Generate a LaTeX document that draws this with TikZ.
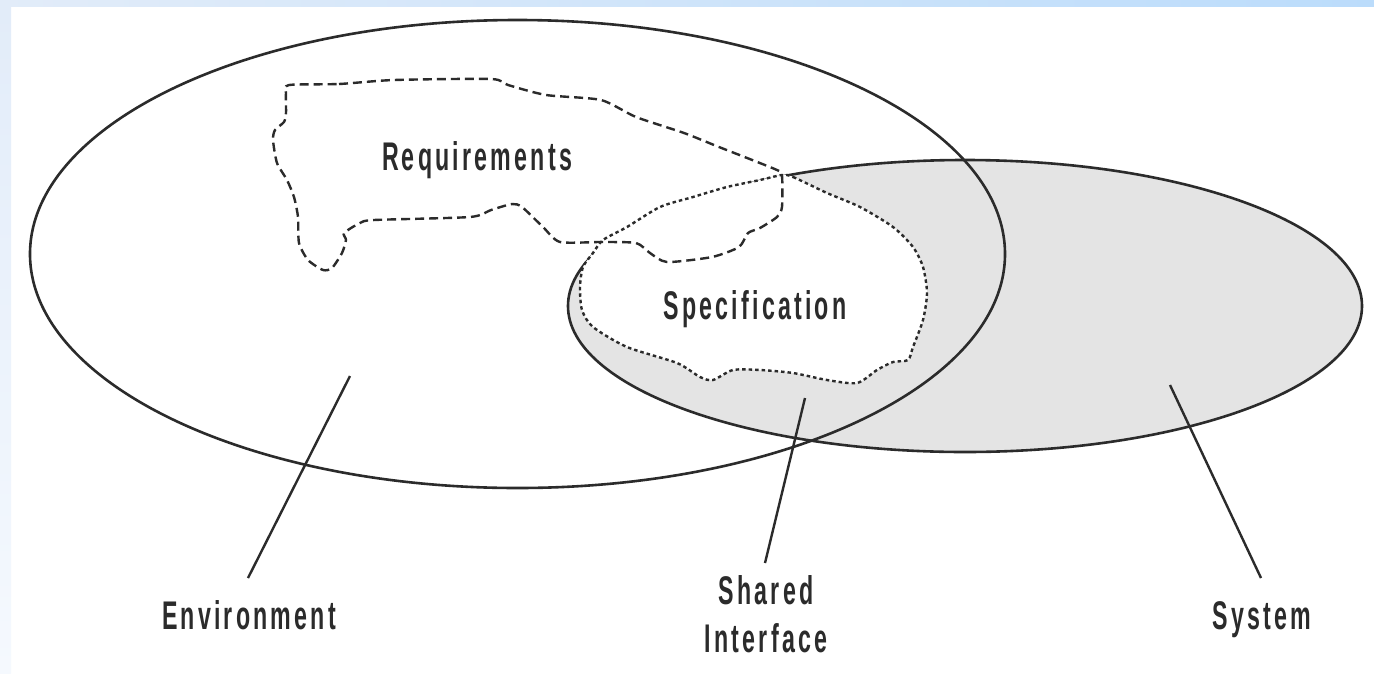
\documentclass[tikz,border=0pt]{standalone}
\usepackage{fontspec}
\usetikzlibrary{shapes.geometric}
\newfontfamily\lblfont{Liberation Sans}[FakeStretch=0.58,LetterSpace=8]
\definecolor{ink}{HTML}{2B2B2B}
\definecolor{sysgray}{HTML}{E4E4E4}
\definecolor{bandA}{HTML}{E2ECF9}
\definecolor{bandB}{HTML}{BBDCFB}
\definecolor{bandC}{HTML}{F5F9FE}
\tikzset{
  outline/.style={draw=ink, line width=2.6pt},
  reqline/.style={draw=ink, line width=2.4pt, dash pattern=on 9pt off 5pt},
  specline/.style={draw=ink, line width=2.4pt, dash pattern=on 3.5pt off 3pt},
  leader/.style={draw=ink, line width=2.4pt},
  lbl/.style={text=ink, inner sep=0pt, font=\lblfont\bfseries\fontsize{40}{48}\selectfont},
  region/.style={ellipse, inner sep=0pt, outer sep=0pt}
}
\begin{document}
\begin{tikzpicture}[x=1pt,y=-1pt]
\useasboundingbox (0,0) rectangle (1374,673);
\fill[white] (0,0) rectangle (1374,673);
% frame bands
\shade[left color=bandA, right color=bandB] (0,0) rectangle (1374,6);
\shade[top color=bandA, bottom color=bandC] (0,6) rectangle (11,673);

% system (shaded) and environment ellipses
\node[region, outline, fill=sysgray, minimum width=794pt, minimum height=292pt] (sys) at (965,306) {};
\node[region, outline, minimum width=975pt, minimum height=468pt] (env) at (517.5,254) {};

% specification blob
\path[fill=white] plot[smooth cycle, tension=0.45] coordinates {
  (782,175) (793,177) (827,193) (860,207) (893,227) (913,247) (923,267)
  (927,293) (923,320) (913,347) (908,360) (893,362) (877,370) (857,383)
  (827,380) (793,373) (760,370) (733,370) (713,380) (700,377) (677,363)
  (627,347) (593,327) (582,310) (580,287) (583,267) (593,253) (603,240)
  (627,227) (660,207) (693,197) (727,187) (760,180)};
\draw[specline] plot[smooth cycle, tension=0.45] coordinates {
  (782,175) (793,177) (827,193) (860,207) (893,227) (913,247) (923,267)
  (927,293) (923,320) (913,347) (908,360) (893,362) (877,370) (857,383)
  (827,380) (793,373) (760,370) (733,370) (713,380) (700,377) (677,363)
  (627,347) (593,327) (582,310) (580,287) (583,267) (593,253) (603,240)
  (627,227) (660,207) (693,197) (727,187) (760,180)};

% requirements blob
\draw[reqline] plot[smooth cycle, tension=0.4] coordinates {
  (289,85) (339,84) (394,80) (491,79) (508,85) (546,95) (601,100)
  (636,117) (684,133) (719,147) (777,170) (782,176) (782,207) (777,217)
  (760,228) (748,233) (739,247) (712,257) (667,262) (650,253) (636,243)
  (601,242) (560,242) (543,227) (522,207) (512,204) (491,210) (470,217)
  (374,220) (360,223) (344,233) (346,240) (342,253) (332,268) (323,270)
  (308,260) (299,243) (298,217) (294,197) (287,180) (277,163) (273,140)
  (275,130) (284,122) (286,113) (286,93)};

% labels
\node[lbl, anchor=base] (reqlbl) at (477,170) {Requirements};
\node[lbl, anchor=base] (speclbl) at (755,319) {Specification};
\node[lbl, anchor=base] (envlbl) at (249,629) {Environment};
\node[lbl, align=center] (sharedlbl) at (766,614) {Shared\\Interface};
\node[lbl, anchor=base] (syslbl) at (1262,629) {System};

% leader lines
\coordinate (envpt) at (350,376);
\coordinate (envend) at (248,578);
\coordinate (sharedpt) at (805,398);
\coordinate (sharedend) at (765,563);
\coordinate (syspt) at (1170,385);
\coordinate (sysend) at (1261,578);
\draw[leader] (envpt) -- (envend);
\draw[leader] (sharedpt) -- (sharedend);
\draw[leader] (syspt) -- (sysend);
\end{tikzpicture}
\end{document}
